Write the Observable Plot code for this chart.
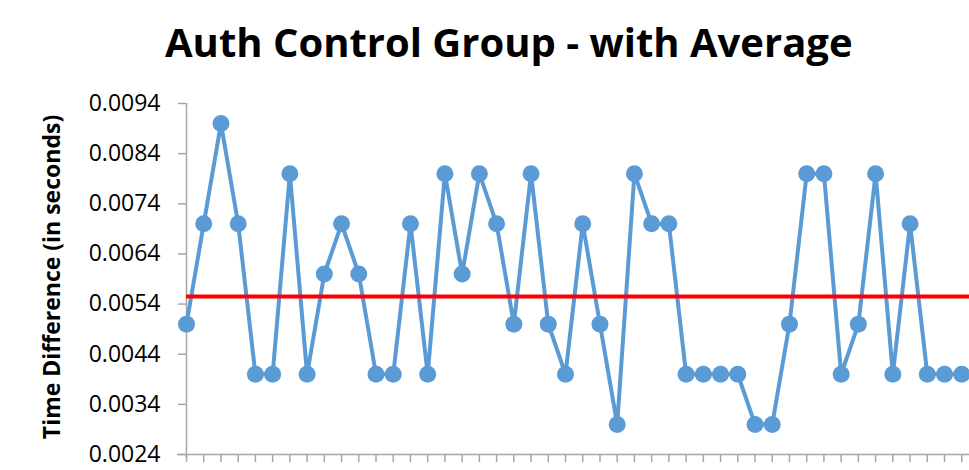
<!DOCTYPE html>
<html>
<head>
<meta charset="utf-8">
<script src="https://cdn.jsdelivr.net/npm/d3@7"></script>
<script src="https://cdn.jsdelivr.net/npm/@observablehq/plot@0.6"></script>
<style>
  html, body { margin: 0; padding: 0; background: #fff; }
  #wrap { width: 969px; height: 470px; overflow: hidden; }
  #title {
    height: 90px; box-sizing: border-box; padding-top: 14px; padding-left: 165px;
    font-family: "Open Sans", sans-serif; font-weight: bold; font-size: 40px;
    line-height: normal; white-space: nowrap; color: #000;
  }
  #chart svg { display: block; }
</style>
</head>
<body>
<div id="wrap">
  <div id="title">Auth Control Group - with Average</div>
  <div id="chart"></div>
</div>
<script>
// Time difference per trial, in seconds
const timeDiff = [
  0.005, 0.007, 0.009, 0.007, 0.004, 0.004, 0.008, 0.004, 0.006, 0.007,
  0.006, 0.004, 0.004, 0.007, 0.004, 0.008, 0.006, 0.008, 0.007, 0.005,
  0.008, 0.005, 0.004, 0.007, 0.005, 0.003, 0.008, 0.007, 0.007, 0.004,
  0.004, 0.004, 0.004, 0.003, 0.003, 0.005, 0.008, 0.008, 0.004, 0.005,
  0.008, 0.004, 0.007, 0.004, 0.004, 0.004
];
// Average of the group, drawn as a horizontal reference line
const averageTime = 0.00555;
// Value-axis ticks
const yTicks = [0.0024, 0.0034, 0.0044, 0.0054, 0.0064, 0.0074, 0.0084, 0.0094];
const yLabel = "Time Difference (in seconds)";

const trials = timeDiff.map((v, i) => ({i, v}));
const trialTicks = trials.map(d => d.i);
const axisGrey = "#a6a6a6";
const blue = "#5b9bd5";

const chart = Plot.plot({
  width: 969,
  height: 380,
  marginTop: 13,
  marginBottom: 16,
  marginLeft: 186,
  marginRight: 0,
  style: {fontFamily: "'Open Sans', sans-serif", background: "#fff", color: "#000", overflow: "visible"},
  x: {domain: [0, 45.45], axis: null},
  y: {domain: [yTicks[0], yTicks[yTicks.length - 1]], axis: null},
  marks: [
    Plot.axisY({
      ticks: yTicks, tickSize: 8, tickPadding: 18, fontSize: 23,
      tickFormat: d => d.toFixed(4), stroke: axisGrey, strokeWidth: 1.5, fill: "#000",
      label: null
    }),
    Plot.axisX({
      ticks: trialTicks, tickSize: 8, tickFormat: () => "",
      stroke: axisGrey, strokeWidth: 1.5, label: null
    }),
    Plot.ruleX([0], {stroke: axisGrey, strokeWidth: 1.5, insetBottom: -4}),
    Plot.ruleY([yTicks[0]], {stroke: axisGrey, strokeWidth: 1.5, insetLeft: -9}),
    Plot.text([yLabel], {
      frameAnchor: "left", textAnchor: "middle", lineAnchor: "middle",
      rotate: -90, dx: -134, dy: -2,
      fontSize: 23, fontWeight: "bold", fill: "#000"
    }),
    Plot.line(trials, {x: "i", y: "v", stroke: blue, strokeWidth: 4, strokeLinejoin: "round"}),
    Plot.dot(trials, {x: "i", y: "v", r: 8.5, fill: blue, stroke: "none"}),
    Plot.ruleY([averageTime], {stroke: "#ff0000", strokeWidth: 4})
  ]
});
document.getElementById("chart").appendChild(chart);
</script>
</body>
</html>
